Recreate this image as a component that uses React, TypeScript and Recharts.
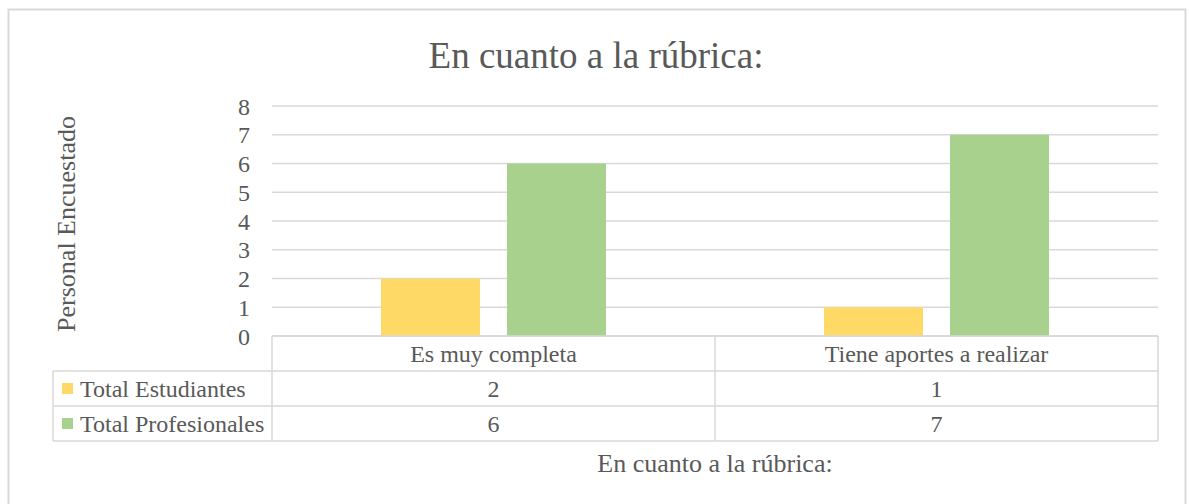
import React from "react";
import { BarChart, Bar, XAxis, YAxis, CartesianGrid } from "recharts";

const categories = ["Es muy completa", "Tiene aportes a realizar"];
const estudiantes = [2, 1];
const profesionales = [6, 7];
const seriesNames = ["Total Estudiantes", "Total Profesionales"];
const yTicks = [0, 1, 2, 3, 4, 5, 6, 7, 8];
const chartTitle = "En cuanto a la rúbrica:";
const xTitle = "En cuanto a la rúbrica:";
const yTitle = "Personal Encuestado";

const COLORS = ["#FFD966", "#A9D18E"];
const TEXT = "#595959";
const LINE = "#D9D9D9";
const FONT = "'Liberation Serif', 'Times New Roman', serif";

const W = 1189;
const H = 504;
const PLOT_LEFT = 272;
const PLOT_RIGHT = 1158;
const PLOT_TOP = 106;
const PLOT_BOTTOM = 336;
const BAND = (PLOT_RIGHT - PLOT_LEFT) / categories.length;
const ROW_H = 35;
const LEGEND_W = 219;

const data = categories.map((c, i) => ({
  name: c,
  estudiantes: estudiantes[i],
  profesionales: profesionales[i],
}));

const seriesValues = [estudiantes, profesionales];

// data table under the plot, drawn per category tick
function TableTick(props: any) {
  const { x, y, index, payload } = props;
  const left = x - BAND / 2;
  const right = x + BAND / 2;
  const top = y;
  const idx = index ?? payload?.index ?? 0;
  const last = idx === categories.length - 1;

  return (
    <g>
      <line x1={left} x2={right} y1={top} y2={top} stroke={LINE} strokeWidth={1.5} />
      <text x={x} y={top + ROW_H / 2 + 8} textAnchor="middle" fill={TEXT} fontSize={24} fontFamily={FONT}>
        {payload.value}
      </text>
      {seriesValues.map((vals, r) => {
        const rowTop = top + ROW_H * (r + 1);
        return (
          <g key={r}>
            <line x1={left} x2={right} y1={rowTop} y2={rowTop} stroke={LINE} strokeWidth={1.5} />
            <text x={x} y={rowTop + ROW_H / 2 + 8} textAnchor="middle" fill={TEXT} fontSize={24} fontFamily={FONT}>
              {vals[idx]}
            </text>
          </g>
        );
      })}
      <line x1={left} x2={right} y1={top + ROW_H * 3} y2={top + ROW_H * 3} stroke={LINE} strokeWidth={1.5} />
      <line x1={left} x2={left} y1={top} y2={top + ROW_H * 3} stroke={LINE} strokeWidth={1.5} />
      {last && (
        <line x1={right} x2={right} y1={top} y2={top + ROW_H * 3} stroke={LINE} strokeWidth={1.5} />
      )}
      {idx === 0 && (
        <g>
          {seriesNames.map((name, r) => {
            const rowTop = top + ROW_H * (r + 1);
            return (
              <g key={name}>
                <line x1={left - LEGEND_W} x2={left} y1={rowTop} y2={rowTop} stroke={LINE} strokeWidth={1.5} />
                <rect x={left - LEGEND_W + 9} y={rowTop + 12} width={11} height={11} fill={COLORS[r]} />
                <text x={left - LEGEND_W + 27} y={rowTop + ROW_H / 2 + 8} fill={TEXT} fontSize={24} fontFamily={FONT}>
                  {name}
                </text>
              </g>
            );
          })}
          <line
            x1={left - LEGEND_W}
            x2={left}
            y1={top + ROW_H * 3}
            y2={top + ROW_H * 3}
            stroke={LINE}
            strokeWidth={1.5}
          />
          <line
            x1={left - LEGEND_W}
            x2={left - LEGEND_W}
            y1={top + ROW_H}
            y2={top + ROW_H * 3}
            stroke={LINE}
            strokeWidth={1.5}
          />
        </g>
      )}
    </g>
  );
}

export default function App() {
  return (
    <div style={{ position: "relative", width: W, height: H, overflow: "hidden", background: "#fff" }}>
      <style>{`html,body{margin:0;padding:0;overflow:hidden;background:#fff}`}</style>
      <BarChart
        width={W}
        height={H}
        data={data}
        margin={{ top: PLOT_TOP, right: W - PLOT_RIGHT, left: 42, bottom: 28 }}
        barSize={99}
        barGap={27}
      >
        <CartesianGrid vertical={false} stroke={LINE} strokeWidth={1.5} />
        <YAxis
          type="number"
          domain={[0, 8]}
          ticks={yTicks}
          interval={0}
          width={PLOT_LEFT - 42}
          axisLine={false}
          tickLine={false}
          tickSize={6}
          tickMargin={16}
          tick={{ fill: TEXT, fontSize: 24, fontFamily: FONT }}
          label={(p: any) => {
            const vb = p.viewBox || {};
            const cx = 75;
            const cy = vb.y + vb.height / 2 + 3;
            return (
              <text
                x={cx}
                y={cy}
                transform={`rotate(-90 ${cx} ${cy})`}
                textAnchor="middle"
                fill={TEXT}
                fontSize={26}
                fontFamily={FONT}
              >
                {yTitle}
              </text>
            );
          }}
        />
        <XAxis
          dataKey="name"
          interval={0}
          axisLine={false}
          tickLine={false}
          tickSize={0}
          tickMargin={0}
          height={H - PLOT_BOTTOM - 28}
          tick={(p: any) => <TableTick {...p} />}
          label={(p: any) => {
            const vb = p.viewBox || {};
            return (
              <text
                x={vb.x + vb.width / 2}
                y={472}
                textAnchor="middle"
                fill={TEXT}
                fontSize={26}
                fontFamily={FONT}
              >
                {xTitle}
              </text>
            );
          }}
        />
        <Bar dataKey="estudiantes" name={seriesNames[0]} fill={COLORS[0]} isAnimationActive={false} />
        <Bar dataKey="profesionales" name={seriesNames[1]} fill={COLORS[1]} isAnimationActive={false} />
      </BarChart>
      <svg
        width={W}
        height={H}
        style={{ position: "absolute", left: 0, top: 0, pointerEvents: "none" }}
      >
        <rect x={8.5} y={9.5} width={1177} height={H + 20} fill="none" stroke={LINE} strokeWidth={2} />
        <text x={596} y={68} textAnchor="middle" fill={TEXT} fontSize={37} fontFamily={FONT}>
          {chartTitle}
        </text>
      </svg>
    </div>
  );
}
